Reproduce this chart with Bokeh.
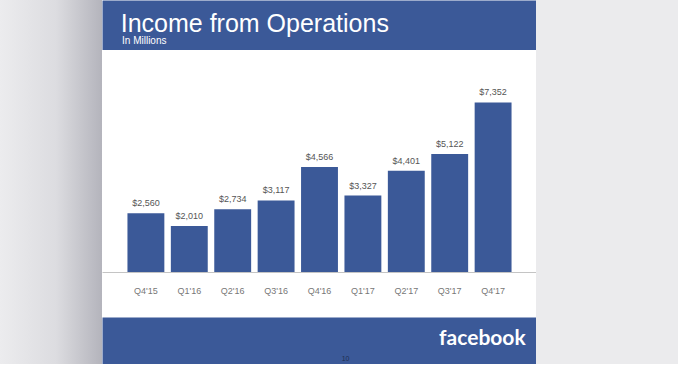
from bokeh.plotting import figure
from bokeh.models import ColumnDataSource, Range1d, FactorRange, Spacer
from bokeh.layouts import row, column
from bokeh.core.properties import value
from bokeh.embed import file_html
from bokeh.resources import INLINE

# ---- data ----
quarters = ["Q4'15", "Q1'16", "Q2'16", "Q3'16", "Q4'16", "Q1'17", "Q2'17", "Q3'17", "Q4'17"]
income = [2560, 2010, 2734, 3117, 4566, 3327, 4401, 5122, 7352]
title_text = "Income from Operations"
subtitle_text = "In Millions"
brand_text = "facebook"
page_text = "10"

BLUE = "#3b5998"
FONT = value("Liberation Sans")
SLIDE_W = 434
LEFT_W = 102
TOTAL_W = 678
H_HEAD, H_CHART, H_FOOT = 50, 267, 47


def bare(height, bg):
    f = figure(width=SLIDE_W, height=height, x_range=Range1d(0, 1), y_range=Range1d(0, 1),
               toolbar_location=None, output_backend="svg", x_axis_type=None, y_axis_type=None,
               min_border=0, background_fill_color=bg, border_fill_color=bg, outline_line_color=None)
    f.grid.visible = False
    return f


# header band
header = bare(H_HEAD, BLUE)
header.text(x=[0.042], y=[0.55], text=[title_text], text_font=FONT, text_font_size="25px",
            text_color="white", text_baseline="alphabetic", text_align="left")
header.text(x=[0.045], y=[0.2], text=[subtitle_text], text_font=FONT, text_font_size="10px",
            text_color="white", text_baseline="alphabetic", text_align="left")

# chart
src = ColumnDataSource(dict(q=quarters, v=income, lbl=["${:,}".format(v) for v in income]))
p = figure(width=SLIDE_W, height=H_CHART,
           x_range=FactorRange(*quarters, range_padding=0.5, range_padding_units="absolute"),
           y_range=Range1d(0, 8300), y_axis_location=None,
           toolbar_location=None, output_backend="svg",
           min_border_left=0, min_border_right=0, min_border_top=30, min_border_bottom=45,
           background_fill_color="white", border_fill_color="white", outline_line_color=None)
p.vbar(x="q", top="v", width=0.85, source=src, fill_color=BLUE, line_color=None)
p.text(x="q", y="v", text="lbl", source=src, y_offset=-5, text_align="center",
       text_baseline="bottom", text_font=FONT, text_font_size="9px", text_color="#555555")
p.grid.visible = False
p.xaxis.axis_line_color = "#c4c4c4"
p.xaxis.major_tick_line_color = None
p.xaxis.minor_tick_line_color = None
p.xaxis.major_label_text_font = "Liberation Sans"
p.xaxis.major_label_text_font_size = "9px"
p.xaxis.major_label_text_color = "#777777"
p.xaxis.major_label_standoff = 7

# footer band
footer = bare(H_FOOT, BLUE)
footer.text(x=[0.975], y=[0.6], text=[brand_text], text_font=value("Lato"), text_font_style="bold",
            text_font_size="21px", text_color="white", text_baseline="middle", text_align="right")
footer.text(x=[0.56], y=[0.13], text=[page_text], text_font=FONT, text_font_size="7px",
            text_color="#1f2f52", text_baseline="middle", text_align="center")

left = Spacer(width=LEFT_W, height=H_HEAD + H_CHART + H_FOOT,
              styles={"background": "linear-gradient(to right, #ececee 0%, #dcdce0 55%, #b4b4bc 100%)"})
right = Spacer(width=TOTAL_W - LEFT_W - SLIDE_W, height=H_HEAD + H_CHART + H_FOOT,
               styles={"background": "#ebebed"})

layout = row(left, column(header, p, footer, spacing=0), right, spacing=0)

open("out.html", "w").write(file_html(layout, INLINE))
